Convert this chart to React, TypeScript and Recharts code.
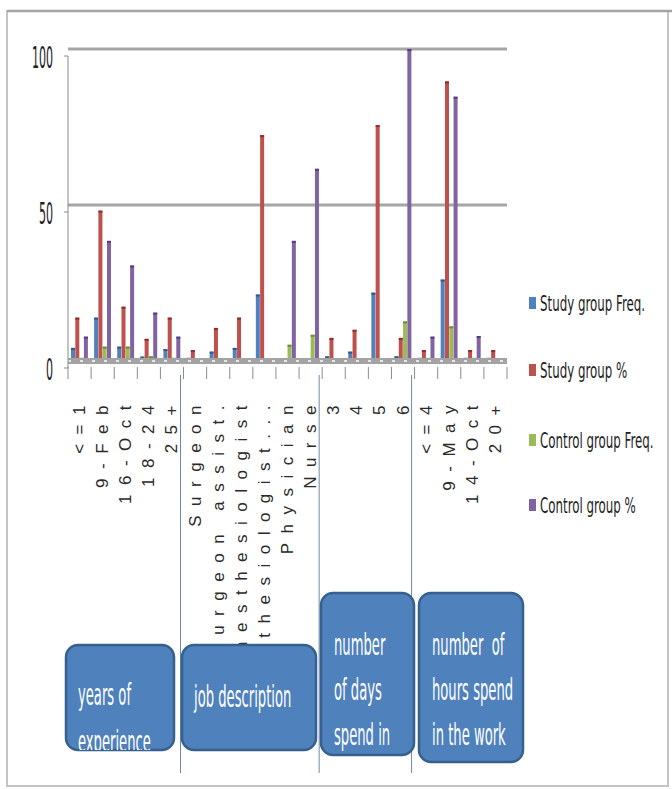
import React from "react";
import { BarChart, Bar, XAxis, YAxis, CartesianGrid, ReferenceLine } from "recharts";

const categories = [
  "<=1", "9-Feb", "16-Oct", "18-24", "25+",
  "Surgeon", "Surgeon assist.", "Anesthesiologist", "Anesthesiologist...", "Physician", "Nurse",
  "3", "4", "5", "6",
  "<=4", "9-May", "14-Oct", "20+",
];
const studyFreq = [4.2, 13.9, 4.6, 1.4, 3.8, 1, 3, 4.2, 21.3, 0, 0, 1.5, 3, 21.9, 1.5, 1, 26.1, 1, 1];
const studyPct = [13.9, 48.2, 17.4, 7.1, 13.9, 3.5, 10.6, 13.9, 72.4, 0, 0, 7.4, 10, 75.6, 7.4, 3.5, 89.6, 3.5, 3.5];
const controlFreq = [1, 4.6, 4.6, 1.5, 1, 0, 0, 0, 0, 5.2, 8.4, 0, 0, 0, 12.7, 1, 11.1, 1, 0];
const controlPct = [7.8, 38.5, 30.6, 15.5, 7.8, 0, 0, 0, 0, 38.5, 61.6, 0, 0, 0, 100, 7.8, 84.7, 8, 0];

const seriesKeys = ["sf", "sp", "cf", "cp"];
const seriesNames = ["Study group Freq.", "Study group %", "Control group Freq.", "Control group %"];
const seriesColors = ["#4F81BD", "#C0504D", "#9BBB59", "#8064A2"];
const capColors = ["#2F5A8C", "#8C2F2C", "#6E8C33", "#553F78"];
const yTicks = [0, 50, 100];
const groupStarts = [5, 11, 15];
const groupLabels = [
  ["years of", "experience"],
  ["job description"],
  ["number", "of days", "spend in"],
  ["number  of", "hours spend", "in the work"],
];

const data = categories.map((name, i) => ({
  name,
  sf: studyFreq[i],
  sp: studyPct[i],
  cf: controlFreq[i],
  cp: controlPct[i],
}));

const NARROW = "'Liberation Sans Narrow', 'DejaVu Sans Condensed', 'Roboto Condensed', Arial, sans-serif";

const makeShape = (fill: string, cap: string) => (props: any) => {
  const { x, y, width, height } = props;
  if (!height || height <= 0) return <g />;
  return (
    <g>
      <rect x={x} y={y} width={width} height={height} fill={fill} />
      <rect x={x} y={y} width={width} height={Math.min(2, height)} fill={cap} />
    </g>
  );
};

const XTick = (props: any) => {
  const { x, y, payload } = props;
  const idx = props.index ?? categories.indexOf(payload.value);
  const half = payload && payload.offset ? payload.offset : 11.55;
  const isLast = idx === categories.length - 1;
  const isGroupStart = groupStarts.includes(idx);
  return (
    <g>
      <line x1={x - half} x2={x - half} y1={y + 6} y2={y + 18} stroke="#8C8C8C" />
      {isLast && <line x1={x + half} x2={x + half} y1={y + 6} y2={y + 18} stroke="#8C8C8C" />}
      {isGroupStart && (
        <line x1={x - half - 3} x2={x - half - 3} y1={y + 14} y2={y + 412} stroke="#6F87A8" />
      )}
      <text
        transform={`translate(${x},${y + 35}) rotate(-90)`}
        textAnchor="end"
        dominantBaseline="central"
        fontSize={17}
        letterSpacing={9.5}
        fill="#2A2A2A"
        fontFamily="'Liberation Sans', Arial, sans-serif"
      >
        {payload.value}
      </text>
    </g>
  );
};

const YTick = (props: any) => {
  const { x, y, payload } = props;
  return (
    <text
      transform={`translate(${x},${y + 9}) scale(0.82,2)`}
      textAnchor="end"
      dominantBaseline="central"
      fontSize={15}
      fontFamily={NARROW}
      fill="#1E1E1E"
    >
      {payload.value}
    </text>
  );
};

const boxes = [
  { x: 66, y: 645, w: 108, h: 105, tx: 78, base: [705, 752] },
  { x: 182, y: 645, w: 134, h: 105, tx: 194, base: [707] },
  { x: 321, y: 593, w: 93, h: 162, tx: 334, base: [655, 700, 745] },
  { x: 419, y: 593, w: 104, h: 169, tx: 432, base: [655, 700, 745] },
];

const legendY = [303, 370, 440, 505];

export default function App() {
  return (
    <div style={{ position: "absolute", left: 0, top: 0, width: 672, height: 789, background: "#fff", overflow: "hidden" }}>
      <div style={{ position: "absolute", left: 0, top: 0 }}>
        <BarChart
          width={672}
          height={789}
          data={data}
          margin={{ top: 49, right: 165, bottom: 28, left: 8 }}
          barSize={4}
          barGap={0.3}
        >
          <CartesianGrid vertical={false} stroke="#A6A6A6" strokeWidth={3} />
          <XAxis
            dataKey="name"
            interval={0}
            height={400}
            tickSize={0}
            tickMargin={0}
            axisLine={false}
            tickLine={false}
            tick={(p: any) => <XTick {...p} />}
          />
          <YAxis
            domain={[0, 100]}
            ticks={yTicks}
            interval={0}
            width={60}
            tickSize={4}
            tickMargin={11}
            axisLine={{ stroke: "#8A8A8A", transform: "translate(0,7)" }}
            tickLine={{ stroke: "#8A8A8A", transform: "translate(0,7)" }}
            tick={(p: any) => <YTick {...p} />}
          />
          {seriesKeys.map((k, i) => (
            <Bar
              key={k}
              dataKey={k}
              name={seriesNames[i]}
              fill={seriesColors[i]}
              isAnimationActive={false}
              shape={makeShape(seriesColors[i], capColors[i])}
            />
          ))}
          <ReferenceLine y={0} stroke="#A3A3A3" strokeWidth={6} />
          <ReferenceLine y={0} stroke="#E6E6E6" strokeWidth={2} strokeDasharray="3 9" />
        </BarChart>
      </div>
      <svg
        width={672}
        height={789}
        style={{ position: "absolute", left: 0, top: 0, pointerEvents: "none" }}
      >
        <defs>
          {boxes.map((b, i) => (
            <clipPath id={`clip${i}`} key={i}>
              <rect x={b.x} y={b.y} width={b.w} height={b.h} rx={12} ry={12} />
            </clipPath>
          ))}
        </defs>
        <rect x={7} y={11} width={661} height={775} fill="none" stroke="#C4C4C4" strokeWidth={2} />
        <line x1={7} x2={672} y1={11} y2={11} stroke="#A4A4A4" strokeWidth={2.5} />
        {boxes.map((b, i) => (
          <g key={i}>
            <rect x={b.x} y={b.y} width={b.w} height={b.h} rx={12} ry={12} fill="#4F81BD" stroke="#36618F" strokeWidth={2.5} />
            <g clipPath={`url(#clip${i})`}>
              {groupLabels[i].map((line, j) => (
                <text
                  key={j}
                  transform={`translate(${b.tx},${b.base[j]}) scale(0.86,1.78)`}
                  fontSize={17}
                  fontFamily={NARROW}
                  fill="#FFFFFF"
                  style={{ whiteSpace: "pre" }}
                >
                  {line}
                </text>
              ))}
            </g>
          </g>
        ))}
        {seriesNames.map((n, i) => (
          <g key={n}>
            <rect x={529} y={legendY[i] - 6} width={7} height={12} fill={seriesColors[i]} />
            <text
              transform={`translate(540,${legendY[i]}) scale(0.94,1.55)`}
              dominantBaseline="central"
              fontSize={14}
              fontFamily={NARROW}
              fill="#1E1E1E"
            >
              {n}
            </text>
          </g>
        ))}
      </svg>
    </div>
  );
}
